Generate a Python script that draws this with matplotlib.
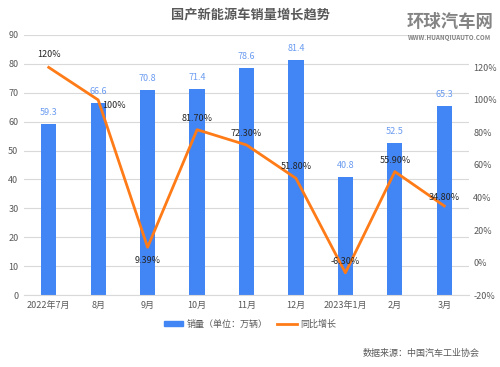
import numpy as np
import matplotlib
matplotlib.use("Agg")
import matplotlib.pyplot as plt
from matplotlib.patches import Patch
from matplotlib.lines import Line2D

plt.rcParams['font.family'] = ['Noto Sans CJK SC', 'DejaVu Sans']

months = ['2022年7月', '8月', '9月', '10月', '11月', '12月', '2023年1月', '2月', '3月']
sales = [59.3, 66.6, 70.8, 71.4, 78.6, 81.4, 40.8, 52.5, 65.3]
growth = [120, 100, 9.39, 81.7, 72.3, 51.8, -6.3, 55.9, 34.8]
growth_labels = ['120%', '100%', '9.39%', '81.70%', '72.30%', '51.80%', '-6.30%', '55.90%', '34.80%']

bar_color = '#4285f4'
line_color = '#ff7b17'
text_gray = '#595959'

fig = plt.figure(figsize=(5, 3.67), dpi=100)
ax = fig.add_axes([0.048, 0.196, 0.890, 0.709])
x = np.arange(len(months))

ax.bar(x, sales, width=0.31, color=bar_color, zorder=2)
for xi, v in zip(x, sales):
    ax.annotate(f'{v}', (xi, v), xytext=(0, 5), textcoords='offset points',
                ha='center', va='bottom', fontsize=6.5, color='#6b9cf0')

ax.set_ylim(0, 90)
ax.set_yticks(range(0, 91, 10))
ax.set_xlim(-0.5, len(months) - 0.5)
ax.set_xticks(x)
ax.set_xticklabels(months)
ax.grid(axis='y', color='#d9d9d9', linewidth=0.8, zorder=0)
ax.tick_params(axis='both', length=0, labelsize=6.5, labelcolor=text_gray, pad=4)
for s in ['top', 'right', 'left']:
    ax.spines[s].set_visible(False)
ax.spines['bottom'].set_color('#d9d9d9')

ax2 = ax.twinx()
ax2.plot(x, growth, color=line_color, linewidth=2, zorder=3)
ax2.set_ylim(-20, 140)
ax2.set_yticks(range(-20, 121, 20))
ax2.set_yticklabels([f'{t}%' for t in range(-20, 121, 20)])
ax2.tick_params(axis='y', length=0, labelsize=6.5, labelcolor=text_gray, pad=3)
for s in ['top', 'right', 'left', 'bottom']:
    ax2.spines[s].set_visible(False)

offsets = [(0, 6, 'center', 'bottom'), (3, -1, 'left', 'top'), (0, -6, 'center', 'top'),
           (0, 5, 'center', 'bottom'), (0, 5, 'center', 'bottom'), (0, 5, 'center', 'bottom'),
           (0, 5, 'center', 'bottom'), (0, 5, 'center', 'bottom'), (0, 3, 'center', 'bottom')]
for xi, v, lab, (dx, dy, ha, va) in zip(x, growth, growth_labels, offsets):
    ax2.annotate(lab, (xi, v), xytext=(dx, dy), textcoords='offset points',
                 ha=ha, va=va, fontsize=6.5, color='#262626', zorder=4)

fig.text(0.5, 0.958, '国产新能源车销量增长趋势', ha='center', va='center',
         fontsize=9.5, fontweight='bold', color=text_gray)

handles = [Patch(color=bar_color), Line2D([0], [0], color=line_color, linewidth=2)]
fig.legend(handles, ['销量（单位：万辆）', '同比增长'], loc='center', bbox_to_anchor=(0.5, 0.117),
           ncol=2, frameon=False, fontsize=6.5, labelcolor=text_gray,
           handlelength=2.2, handleheight=0.6, columnspacing=1.0, handletextpad=0.4)

fig.text(0.96, 0.038, '数据来源：中国汽车工业协会', ha='right', va='center',
         fontsize=6.5, color=text_gray)

# watermark
fig.text(0.9, 0.94, '环球汽车网', ha='center', va='center', fontsize=12.5,
         fontweight='bold', color='#6e6e6e', alpha=0.85)
fig.text(0.9, 0.897, 'WWW.HUANQIUAUTO.COM', ha='center', va='center', fontsize=4.5,
         fontweight='bold', color='#6e6e6e', alpha=0.85)

fig.savefig('out.png', dpi=100)
